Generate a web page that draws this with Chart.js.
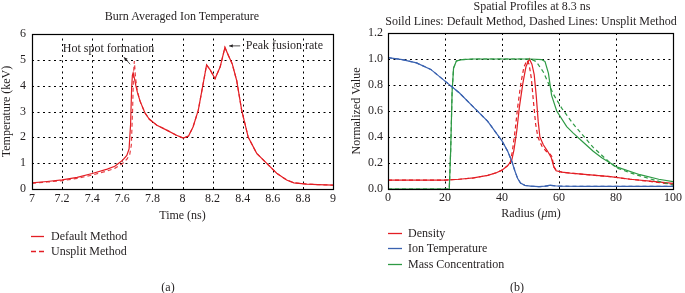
<!DOCTYPE html>
<html>
<head>
<meta charset="utf-8">
<script src="https://cdn.jsdelivr.net/npm/chart.js@4/dist/chart.umd.min.js"></script>
<style>
    body{margin:0;background:#fff;}
    #wrap{position:relative;width:685px;height:293px;overflow:hidden;font-family:"Liberation Serif",serif;font-size:12px;color:#231f20;}
    .t{position:absolute;white-space:nowrap;line-height:14px;}
    .c{text-align:center;}
    canvas{position:absolute;top:0;}
    svg{position:absolute;overflow:visible;}
</style>
</head>
<body>
<div id="wrap">
    <canvas id="chartA" width="340" height="230" style="left:0"></canvas>
    <canvas id="chartB" width="345" height="230" style="left:340px"></canvas>

    <div class="t c" style="left:82px;width:200px;top:9px">Burn Averaged Ion Temperature</div>
    <div class="t c" style="left:382px;width:300px;top:-1px">Spatial Profiles at 8.3 ns</div>
    <div class="t c" style="left:371px;width:320px;top:14px">Soild Lines: Default Method, Dashed Lines: Unsplit Method</div>
    <div class="t c" style="left:471px;width:120px;top:206px">Radius (<i>μ</i>m)</div>

    <!-- legend (a) -->
    <svg style="left:31px;top:236px" width="14" height="2"><line x1="0" y1="0.5" x2="13" y2="0.5" stroke="#e31e24" stroke-width="1.3"/></svg>
    <div class="t" style="left:51px;top:229px">Default Method</div>
    <svg style="left:31px;top:251px" width="14" height="2"><line x1="0" y1="0.5" x2="13" y2="0.5" stroke="#e31e24" stroke-width="1.3" stroke-dasharray="5,3"/></svg>
    <div class="t" style="left:51px;top:244px">Unsplit Method</div>

    <!-- legend (b) -->
    <svg style="left:388px;top:233px" width="15" height="2"><line x1="0" y1="0.5" x2="14" y2="0.5" stroke="#e31e24" stroke-width="1.3"/></svg>
    <div class="t" style="left:408px;top:226px">Density</div>
    <svg style="left:388px;top:248px" width="15" height="2"><line x1="0" y1="0.5" x2="14" y2="0.5" stroke="#3a62b0" stroke-width="1.3"/></svg>
    <div class="t" style="left:408px;top:241px">Ion Temperature</div>
    <svg style="left:388px;top:264px" width="15" height="2"><line x1="0" y1="0.5" x2="14" y2="0.5" stroke="#2e9a44" stroke-width="1.3"/></svg>
    <div class="t" style="left:408px;top:257px">Mass Concentration</div>

    <div class="t c" style="left:148px;width:40px;top:280px">(a)</div>
    <div class="t c" style="left:497px;width:40px;top:280px">(b)</div>
</div>

<script>
    // ---- (a) burn averaged ion temperature, keV vs ns
    const timeDefault = [7.0, 7.1, 7.2, 7.3, 7.4, 7.5, 7.55, 7.6, 7.63, 7.645, 7.655, 7.662, 7.667, 7.672, 7.68, 7.69, 7.7, 7.718, 7.75, 7.78, 7.83, 7.895, 7.96, 8.005, 8.04, 8.07, 8.105, 8.13, 8.16, 8.185, 8.216, 8.25, 8.282, 8.305, 8.33, 8.36, 8.393, 8.437, 8.493, 8.56, 8.626, 8.692, 8.74, 8.825, 8.9, 9.0];
    const tempDefault = [0.24, 0.29, 0.35, 0.45, 0.6, 0.77, 0.88, 1.1, 1.3, 1.55, 2.5, 3.9, 4.4, 4.5, 4.3, 4.0, 3.75, 3.4, 2.95, 2.7, 2.47, 2.28, 2.08, 1.97, 2.05, 2.4, 3.05, 3.85, 4.8, 4.6, 4.27, 4.72, 5.48, 5.17, 4.85, 4.2, 3.05, 2.0, 1.38, 0.99, 0.61, 0.35, 0.24, 0.19, 0.17, 0.15];
    const timeUnsplit = [7.0, 7.1, 7.2, 7.3, 7.4, 7.5, 7.55, 7.6, 7.63, 7.65, 7.66, 7.668, 7.675, 7.68, 7.688, 7.7, 7.718, 7.75, 7.78, 7.83, 7.895, 7.96, 8.005, 8.04, 8.07, 8.105, 8.13, 8.16, 8.185, 8.216, 8.25, 8.282, 8.305, 8.33, 8.36, 8.393, 8.437, 8.493, 8.56, 8.626, 8.692, 8.74, 8.825, 8.9, 9.0];
    const tempUnsplit = [0.22, 0.27, 0.32, 0.41, 0.54, 0.7, 0.8, 0.98, 1.15, 1.35, 1.7, 3.0, 4.5, 4.95, 4.3, 3.78, 3.4, 2.95, 2.7, 2.47, 2.28, 2.08, 1.97, 2.05, 2.4, 3.05, 3.85, 4.8, 4.6, 4.27, 4.72, 5.48, 5.17, 4.85, 4.2, 3.05, 2.0, 1.38, 0.99, 0.61, 0.35, 0.24, 0.19, 0.17, 0.15];

    // ---- (b) spatial profiles at 8.3 ns, normalized vs radius (um)
    const densityR = [0, 10, 20, 25, 30, 35, 38, 40, 42, 43.4, 44.2, 45.2, 46.1, 47.3, 48.4, 49.6, 50.5, 51.3, 52, 52.7, 53.3, 54.5, 56, 57.3, 58.2, 59, 61, 64, 71, 78, 85, 92, 100];
    const densityDefault = [0.069, 0.068, 0.069, 0.075, 0.085, 0.105, 0.125, 0.145, 0.18, 0.22, 0.3, 0.45, 0.63, 0.81, 0.94, 1.0, 0.96, 0.88, 0.72, 0.52, 0.4, 0.34, 0.29, 0.24, 0.17, 0.14, 0.13, 0.122, 0.108, 0.095, 0.075, 0.06, 0.044];
    const densityUnsplitR = [0, 10, 20, 25, 30, 35, 38, 40, 42, 43, 43.7, 44.6, 45.5, 46.6, 47.7, 48.8, 49.5, 50.3, 51, 51.8, 52.6, 54, 55.5, 56.8, 57.5, 58.2, 59.2, 61, 64, 71, 78, 85, 92, 100];
    const densityUnsplit = [0.069, 0.068, 0.069, 0.075, 0.085, 0.105, 0.125, 0.145, 0.18, 0.21, 0.3, 0.45, 0.63, 0.81, 0.94, 0.99, 0.96, 0.85, 0.68, 0.5, 0.4, 0.33, 0.29, 0.27, 0.25, 0.17, 0.14, 0.13, 0.122, 0.108, 0.095, 0.075, 0.058, 0.035];
    const ionTempR = [0, 5, 10, 15, 20, 25, 30, 35, 38, 40, 42, 43.5, 44.5, 45.5, 46.5, 48, 50, 53, 55, 57, 58.5, 60, 70, 80, 90, 100];
    const ionTempDefault = [1.01, 0.995, 0.97, 0.92, 0.83, 0.74, 0.63, 0.52, 0.43, 0.37, 0.29, 0.21, 0.14, 0.08, 0.045, 0.028, 0.022, 0.018, 0.022, 0.03, 0.025, 0.022, 0.02, 0.02, 0.02, 0.02];
    const ionTempUnsplit = [1.01, 0.995, 0.97, 0.92, 0.83, 0.74, 0.63, 0.52, 0.43, 0.37, 0.29, 0.21, 0.14, 0.08, 0.045, 0.028, 0.022, 0.018, 0.02, 0.026, 0.024, 0.022, 0.02, 0.02, 0.02, 0.02];
    const massR = [0, 21.5, 22, 22.5, 23, 24, 26, 30, 40, 50, 54, 55.1, 56.3, 57.4, 59.2, 62.7, 65, 68.5, 72, 75, 78, 80.2, 88.4, 95, 100];
    const massDefault = [0, 0, 0.3, 0.75, 0.93, 0.985, 0.995, 1.0, 1.0, 1.0, 0.995, 0.98, 0.89, 0.72, 0.6, 0.48, 0.43, 0.36, 0.29, 0.24, 0.2, 0.17, 0.11, 0.075, 0.056];
    const massUnsplitR = [0, 21.5, 22, 22.5, 23, 24, 26, 30, 40, 50, 52, 54.5, 58, 61, 65, 68.5, 72, 75, 78, 80.5, 87, 94, 100];
    const massUnsplit = [0, 0, 0.3, 0.75, 0.93, 0.985, 0.995, 1.0, 1.0, 1.0, 0.98, 0.9, 0.73, 0.62, 0.5, 0.41, 0.32, 0.26, 0.2, 0.16, 0.11, 0.065, 0.03];

    const RED = "#e31e24", BLUE = "#3a62b0", GREEN = "#2e9a44", INK = "#231f20";
    const FONT = {family: "'Liberation Serif', serif", size: 12};

    const pts = (xs, ys) => xs.map((x, i) => ({x: x, y: ys[i]}));

    function line(data, color, dashed) {
        return {
            data: data,
            borderColor: color,
            borderWidth: 1.2,
            borderDash: dashed ? [4, 3] : [],
            pointRadius: 0,
            tension: 0,
            fill: false,
        };
    }

    // dotted grid at every tick, drawn under the data
    const dotGrid = {
        id: "dotGrid",
        beforeDatasetsDraw(chart) {
            const {ctx, chartArea: {left, top, right, bottom}, scales: {x, y}} = chart;
            ctx.save();
            ctx.strokeStyle = "#000";
            ctx.lineWidth = 1;
            ctx.setLineDash([2, 3.5]);
            x.ticks.forEach((t) => {
                const px = Math.round(x.getPixelForValue(t.value)) + 0.5;
                ctx.beginPath();
                ctx.moveTo(px, bottom);
                ctx.lineTo(px, top);
                ctx.stroke();
            });
            y.ticks.forEach((t) => {
                const py = Math.round(y.getPixelForValue(t.value)) + 0.5;
                ctx.beginPath();
                ctx.moveTo(left, py);
                ctx.lineTo(right, py);
                ctx.stroke();
            });
            ctx.restore();
        }
    };

    // black frame round the plot area
    const frame = {
        id: "frame",
        afterDraw(chart) {
            const {ctx, chartArea: {left, top, right, bottom}} = chart;
            ctx.save();
            ctx.strokeStyle = "#000";
            ctx.lineWidth = 1.2;
            ctx.strokeRect(left + 0.5, top + 0.5, right - left, bottom - top);
            ctx.restore();
        }
    };

    function arrow(ctx, x1, y1, x2, y2) {
        // arrow from (x1,y1) with head at (x2,y2)
        const a = Math.atan2(y2 - y1, x2 - x1);
        ctx.beginPath();
        ctx.moveTo(x1, y1);
        ctx.lineTo(x2, y2);
        ctx.stroke();
        ctx.beginPath();
        ctx.moveTo(x2, y2);
        ctx.lineTo(x2 - 4 * Math.cos(a - 0.45), y2 - 4 * Math.sin(a - 0.45));
        ctx.lineTo(x2 - 4 * Math.cos(a + 0.45), y2 - 4 * Math.sin(a + 0.45));
        ctx.closePath();
        ctx.fill();
    }

    const notes = {
        id: "notes",
        afterDatasetsDraw(chart) {
            const {ctx, scales: {x, y}} = chart;
            ctx.save();
            ctx.font = "12px 'Liberation Serif', serif";
            ctx.fillStyle = INK;
            ctx.strokeStyle = INK;
            ctx.lineWidth = 0.8;
            ctx.textBaseline = "middle";
            ctx.fillText("Hot spot formation", x.getPixelForValue(7.205), y.getPixelForValue(5.44));
            ctx.fillText("Peak fusion rate", x.getPixelForValue(8.42), y.getPixelForValue(5.55));
            arrow(ctx, x.getPixelForValue(7.652), y.getPixelForValue(4.83), x.getPixelForValue(7.611), y.getPixelForValue(5.1));
            arrow(ctx, x.getPixelForValue(8.383), y.getPixelForValue(5.54), x.getPixelForValue(8.31), y.getPixelForValue(5.54));
            ctx.restore();
        }
    };

    function axis(min, max, step, fmt, pad, width, height, extra) {
        return Object.assign({
            type: "linear",
            min: min,
            max: max,
            grid: {display: false, drawTicks: false},
            border: {display: false},
            ticks: {stepSize: step, color: INK, font: FONT, padding: pad, callback: fmt},
            afterFit: (s) => {
                if (width) s.width = width;
                if (height) s.height = height;
            },
        }, extra);
    }

    Chart.defaults.animation = false;

    new Chart(document.getElementById("chartA").getContext("2d"), {
        type: "line",
        data: {
            datasets: [
                line(pts(timeDefault, tempDefault), RED, false),
                line(pts(timeUnsplit, tempUnsplit), "rgba(227,30,36,0.85)", true),
            ]
        },
        options: {
            responsive: false,
            layout: {padding: {left: 0, right: 7, top: 34, bottom: 0}},
            plugins: {legend: {display: false}, tooltip: {enabled: false}},
            scales: {
                x: axis(7, 9, 0.2, (v) => String(+v.toFixed(1)), 3, 0, 41, {
                    title: {display: true, text: "Time (ns)", color: INK, font: FONT, padding: {bottom: 7}},
                }),
                y: axis(0, 6, 1, (v) => String(v), 6, 32, 0, {
                    title: {display: true, text: "Temperature (keV)", color: INK, font: FONT, padding: {top: 0}},
                }),
            }
        },
        plugins: [dotGrid, frame, notes],
    });

    new Chart(document.getElementById("chartB").getContext("2d"), {
        type: "line",
        data: {
            datasets: [
                line(pts(ionTempR, ionTempDefault), BLUE, false),
                line(pts(ionTempR, ionTempUnsplit), BLUE, true),
                line(pts(massR, massDefault), GREEN, false),
                line(pts(massUnsplitR, massUnsplit), GREEN, true),
                line(pts(densityR, densityDefault), RED, false),
                line(pts(densityUnsplitR, densityUnsplit), RED, true),
            ]
        },
        options: {
            responsive: false,
            layout: {padding: {left: 0, right: 12, top: 33, bottom: 0}},
            plugins: {legend: {display: false}, tooltip: {enabled: false}},
            scales: {
                x: axis(0, 100, 20, (v) => String(v), 2, 0, 41, {}),
                y: axis(0, 1.2, 0.2, (v) => v.toFixed(1), 5, 48, 0, {
                    title: {display: true, text: "Normalized Value", color: INK, font: FONT, padding: {top: 10}},
                }),
            }
        },
        plugins: [dotGrid, frame],
    });
</script>
</body>
</html>
